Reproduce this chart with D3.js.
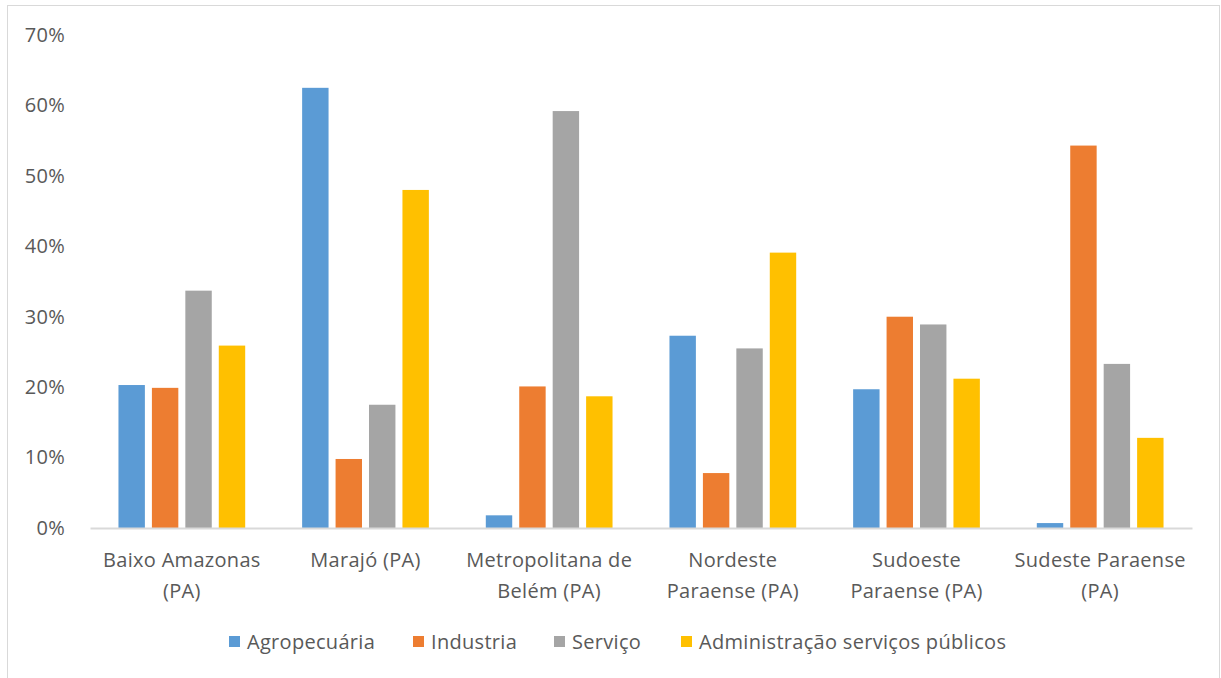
<!DOCTYPE html>
<meta charset="utf-8">
<head>
<style>
body { margin: 0; background: #fff; }
.axis text { font: 20px "Open Sans", sans-serif; fill: #595959; letter-spacing: 0.3px; }
.legend text { font: 20px "Open Sans", sans-serif; fill: #595959; letter-spacing: 0.3px; }
</style>
</head>
<body>
<script src="https://cdn.jsdelivr.net/npm/d3@7"></script>
<script>

var categories = [
    ["Baixo Amazonas", "(PA)"],
    ["Marajó (PA)"],
    ["Metropolitana de", "Belém (PA)"],
    ["Nordeste", "Paraense (PA)"],
    ["Sudoeste", "Paraense (PA)"],
    ["Sudeste Paraense", "(PA)"]
];
var seriesNames = ["Agropecuária", "Industria", "Serviço", "Administração serviços públicos"];
var seriesColors = ["#5b9bd5", "#ed7d31", "#a5a5a5", "#ffc000"];

// one array per series, in category order (fractions)
var agropecuaria = [0.203, 0.625, 0.018, 0.273, 0.197, 0.007];
var industria    = [0.199, 0.098, 0.201, 0.078, 0.300, 0.543];
var servico      = [0.337, 0.175, 0.592, 0.255, 0.289, 0.233];
var adminPublica = [0.259, 0.480, 0.187, 0.391, 0.212, 0.128];

var yTicks = [0, 0.1, 0.2, 0.3, 0.4, 0.5, 0.6, 0.7];

var seriesValues = [agropecuaria, industria, servico, adminPublica];
var catKeys = categories.map(function(c) { return c.join(" "); });

var W = 1221, H = 678;
var margin = {top: 35, right: 29, bottom: 150, left: 90},
    width = W - margin.left - margin.right,
    height = H - margin.top - margin.bottom;

var svg = d3.select("body").append("svg")
    .attr("width", W)
    .attr("height", H);

// chart frame
svg.append("rect")
    .attr("x", 7.5).attr("y", 5.5)
    .attr("width", 1212).attr("height", 700)
    .attr("fill", "none")
    .attr("stroke", "#d9d9d9");

var g = svg.append("g")
    .attr("transform", "translate(" + margin.left + "," + margin.top + ")");

var x0 = d3.scaleBand()
    .domain(catKeys)
    .range([0, width])
    .paddingInner(0.31)
    .paddingOuter(0.155);

var x1 = d3.scaleBand()
    .domain(seriesNames)
    .range([0, x0.bandwidth()])
    .paddingInner(0.21);

var y = d3.scaleLinear()
    .domain([0, 0.7])
    .range([height, 0]);

// y axis
var yAxis = g.append("g")
    .attr("class", "axis")
    .attr("transform", "translate(-22,0)")
    .call(d3.axisLeft(y).tickValues(yTicks).tickFormat(d3.format(".0%")).tickSize(0));
yAxis.select(".domain").remove();

// bars
var rows = catKeys.map(function(k, i) {
    return seriesNames.map(function(s, j) { return {cat: k, name: s, value: seriesValues[j][i], color: seriesColors[j]}; });
});

g.selectAll(".group")
    .data(rows)
    .enter().append("g")
    .attr("class", "group")
    .attr("transform", function(d, i) { return "translate(" + x0(catKeys[i]) + ",0)"; })
    .selectAll("rect")
    .data(function(d) { return d; })
    .enter().append("rect")
    .attr("x", function(d) { return x1(d.name); })
    .attr("y", function(d) { return y(d.value); })
    .attr("width", x1.bandwidth())
    .attr("height", function(d) { return height - y(d.value); })
    .attr("fill", function(d) { return d.color; });

// x axis
var xAxis = g.append("g")
    .attr("class", "axis")
    .attr("transform", "translate(0," + height + ")")
    .call(d3.axisBottom(x0).tickSize(0).tickSizeOuter(0));
xAxis.select(".domain")
    .attr("stroke", "#d9d9d9")
    .attr("stroke-width", 2);
xAxis.selectAll(".tick text")
    .text(null)
    .attr("y", 0)
    .attr("dy", null)
    .each(function(d, i) {
        var t = d3.select(this);
        categories[i].forEach(function(line, k) {
            t.append("tspan")
                .attr("x", 0)
                .attr("y", 39 + k * 31)
                .text(line);
        });
    });

// legend
var legendX = [229, 413, 554, 681];
var legend = svg.append("g").attr("class", "legend");
var item = legend.selectAll("g")
    .data(seriesNames)
    .enter().append("g")
    .attr("transform", function(d, i) { return "translate(" + legendX[i] + ",642)"; });
item.append("rect")
    .attr("x", 0).attr("y", -6)
    .attr("width", 11).attr("height", 11)
    .attr("fill", function(d, i) { return seriesColors[i]; });
item.append("text")
    .attr("x", 18)
    .attr("dy", "0.35em")
    .text(function(d) { return d; });

</script>
</body>
